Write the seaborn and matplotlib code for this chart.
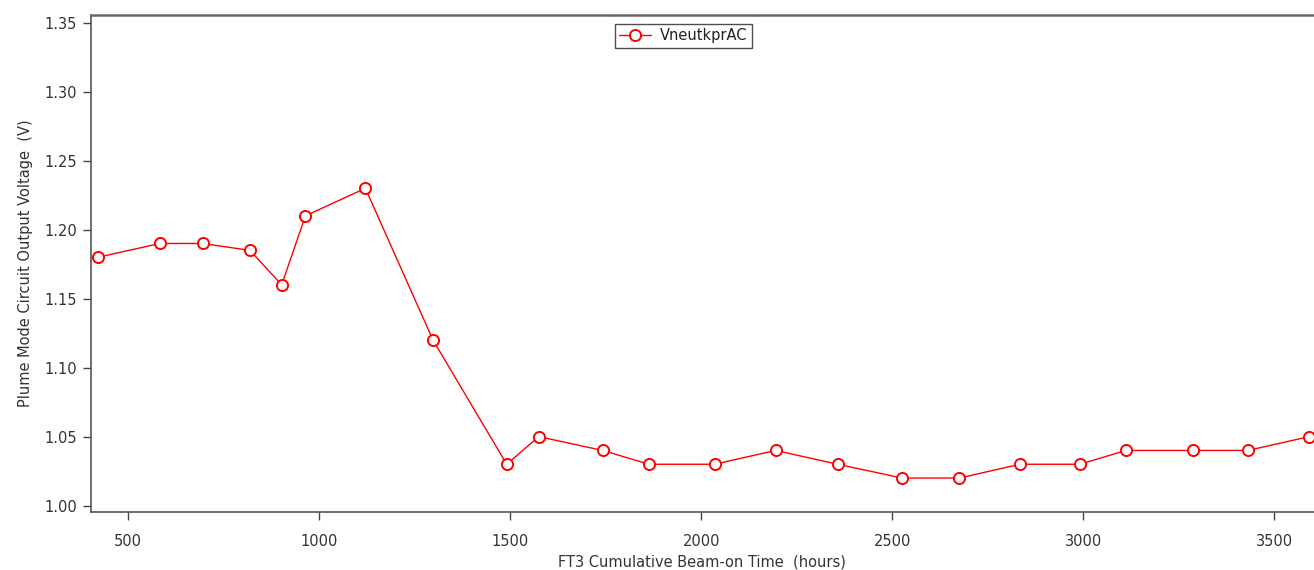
import matplotlib
matplotlib.use("Agg")
import matplotlib.pyplot as plt
import seaborn as sns
import pandas as pd

# Cumulative beam-on time (hours) and plume-mode circuit output voltage (V)
hours = [421, 583, 695, 819, 902, 964, 1121, 1298, 1491, 1575, 1742, 1863,
         2035, 2195, 2357, 2526, 2676, 2834, 2991, 3112, 3287, 3431, 3591]
volts = [1.18, 1.19, 1.19, 1.185, 1.16, 1.21, 1.23, 1.12, 1.03, 1.05, 1.04, 1.03,
         1.03, 1.04, 1.03, 1.02, 1.02, 1.03, 1.03, 1.04, 1.04, 1.04, 1.05]
series_name = "VneutkprAC"

x_ticks = [500, 1000, 1500, 2000, 2500, 3000, 3500]
y_ticks = [1.00, 1.05, 1.10, 1.15, 1.20, 1.25, 1.30, 1.35]

df = pd.DataFrame({"hours": hours, "volts": volts, "series": series_name})

sns.set_theme(style="white")
plt.rcParams["font.family"] = ["DejaVu Sans"]

fig = plt.figure(figsize=(13.14, 5.70), dpi=100)
ax = fig.add_axes([0.069, 0.1018, 0.931, 0.8719])

sns.lineplot(data=df, x="hours", y="volts", hue="series", palette=["#ff0000"],
             marker="o", markersize=8, markerfacecolor="white",
             markeredgecolor="#ff0000", markeredgewidth=1.4, linewidth=1.0,
             ax=ax, clip_on=False)

ax.set_xlim(402, 3604)
ax.set_ylim(0.9954, 1.3556)
ax.set_xticks(x_ticks)
ax.set_yticks(y_ticks)
ax.set_xticklabels([str(v) for v in x_ticks])
ax.set_yticklabels([f"{v:.2f}" for v in y_ticks])

for side in ["left", "bottom", "top"]:
    ax.spines[side].set_visible(True)
    ax.spines[side].set_color("#555555")
    ax.spines[side].set_linewidth(1.2)
ax.spines["top"].set_color("#666666")
ax.spines["top"].set_linewidth(1.8)
ax.spines["right"].set_visible(False)

ax.tick_params(axis="both", direction="out", length=6, width=1.0,
               color="#444444", labelsize=10.5, labelcolor="#333333",
               left=True, bottom=True)
ax.tick_params(axis="y", pad=4)
ax.tick_params(axis="x", pad=10)

ax.set_xlabel("FT3 Cumulative Beam-on Time  (hours)", fontsize=10.5,
              color="#333333", labelpad=4)
ax.set_ylabel("Plume Mode Circuit Output Voltage  (V)", fontsize=10.5,
              color="#333333", labelpad=8)

leg = ax.legend(loc="upper left", bbox_to_anchor=(0.4286, 0.982),
                frameon=True, fancybox=False, fontsize=10.5,
                handlelength=2.2, handletextpad=0.6, borderpad=0.3,
                borderaxespad=0)
leg.get_frame().set_edgecolor("#222222")
leg.get_frame().set_linewidth(1.0)
for t in leg.get_texts():
    t.set_color("#222222")

fig.savefig("out.png", dpi=100, facecolor="white")
